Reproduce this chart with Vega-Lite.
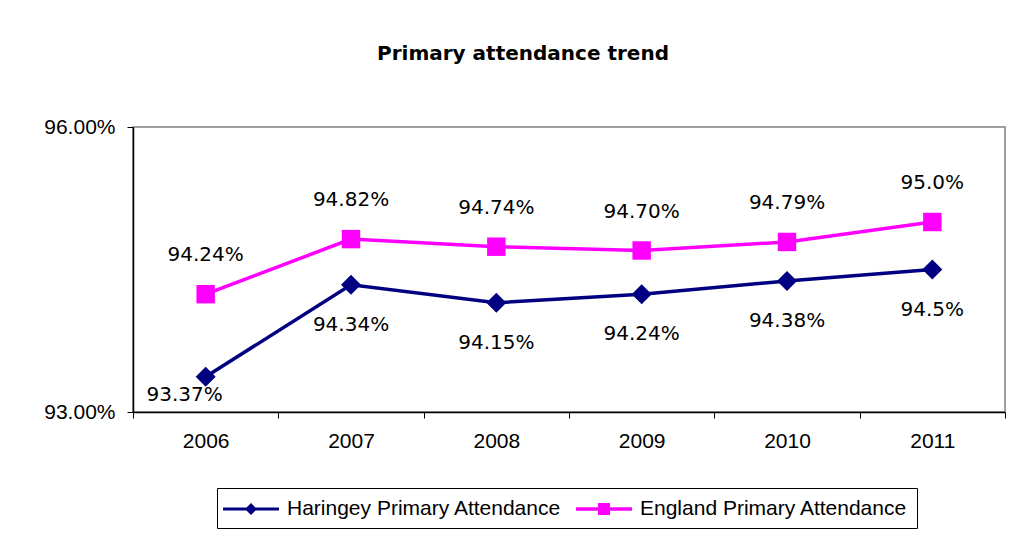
{
  "$schema": "https://vega.github.io/schema/vega-lite/v6.json",
  "autosize": {"type": "none"},
  "width": 872,
  "height": 285,
  "padding": {"left": 133, "top": 127, "right": 24, "bottom": 130},
  "background": "white",
  "title": {
    "text": "Primary attendance trend",
    "font": "DejaVu Sans",
    "fontSize": 20,
    "fontWeight": "bold",
    "color": "black",
    "anchor": "middle",
    "frame": "group",
    "dx": -46,
    "offset": 52
  },
  "config": {
    "view": {"stroke": "#808080", "strokeWidth": 1.5},
    "axis": {
      "labelFont": "Liberation Sans",
      "labelFontSize": 21,
      "labelColor": "black",
      "domainColor": "black",
      "domainWidth": 1.5,
      "tickColor": "black",
      "tickSize": 6,
      "grid": false,
      "title": null
    }
  },
  "data": {
    "values": [
      {"year": "2006", "series": "Haringey Primary Attendance", "value": 93.37, "label": "93.37%"},
      {"year": "2007", "series": "Haringey Primary Attendance", "value": 94.34, "label": "94.34%"},
      {"year": "2008", "series": "Haringey Primary Attendance", "value": 94.15, "label": "94.15%"},
      {"year": "2009", "series": "Haringey Primary Attendance", "value": 94.24, "label": "94.24%"},
      {"year": "2010", "series": "Haringey Primary Attendance", "value": 94.38, "label": "94.38%"},
      {"year": "2011", "series": "Haringey Primary Attendance", "value": 94.5, "label": "94.5%"},
      {"year": "2006", "series": "England Primary Attendance", "value": 94.24, "label": "94.24%"},
      {"year": "2007", "series": "England Primary Attendance", "value": 94.82, "label": "94.82%"},
      {"year": "2008", "series": "England Primary Attendance", "value": 94.74, "label": "94.74%"},
      {"year": "2009", "series": "England Primary Attendance", "value": 94.7, "label": "94.70%"},
      {"year": "2010", "series": "England Primary Attendance", "value": 94.79, "label": "94.79%"},
      {"year": "2011", "series": "England Primary Attendance", "value": 95.0, "label": "95.0%"}
    ]
  },
  "encoding": {
    "x": {
      "field": "year",
      "type": "ordinal",
      "scale": {"type": "band", "paddingInner": 0, "paddingOuter": 0},
      "axis": {"labelAngle": 0, "tickBand": "extent", "labelPadding": 12}
    },
    "y": {
      "field": "value",
      "type": "quantitative",
      "scale": {"domain": [93, 96], "zero": false, "nice": false},
      "axis": {"values": [93, 96], "labelExpr": "format(datum.value / 100, '.2%')", "labelPadding": 12}
    }
  },
  "layer": [
    {
      "mark": {"type": "line", "strokeWidth": 3.5},
      "encoding": {
        "color": {
          "field": "series",
          "type": "nominal",
          "scale": {
            "domain": ["Haringey Primary Attendance", "England Primary Attendance"],
            "range": ["#000080", "#FF00FF"]
          },
          "legend": {
            "orient": "none",
            "legendX": 84,
            "legendY": 361,
            "direction": "horizontal",
            "title": null,
            "strokeColor": "black",
            "fillColor": "white",
            "padding": 9,
            "symbolSize": 576,
            "symbolOffset": 13,
            "symbolStrokeWidth": 0,
            "labelOffset": 24,
            "columnPadding": 14,
            "labelFont": "Liberation Sans",
            "labelFontSize": 21,
            "labelColor": "black",
            "labelLimit": 400,
            "encode": {
              "symbols": {
                "update": {
                  "shape": {"signal": "datum.label === 'Haringey Primary Attendance' ? 'M-2.33,-0.13H2.33V0.13H-2.33Z M-0.5,0L0,-0.5L0.5,0L0,0.5Z' : 'M-2.33,-0.15H2.33V0.15H-2.33Z M-0.5,-0.5H0.5V0.5H-0.5Z'"},
                  "fill": {"signal": "scale('color', datum.value)"},
                  "strokeWidth": {"value": 0}
                }
              }
            }
          }
        }
      }
    },
    {
      "transform": [{"filter": "datum.series === 'Haringey Primary Attendance'"}],
      "mark": {"type": "point", "filled": true, "opacity": 1, "shape": "diamond", "size": 400, "color": "#000080"}
    },
    {
      "transform": [{"filter": "datum.series === 'England Primary Attendance'"}],
      "mark": {"type": "point", "filled": true, "opacity": 1, "shape": "square", "size": 340, "color": "#FF00FF"}
    },
    {
      "transform": [{"filter": "datum.series === 'England Primary Attendance'"}],
      "mark": {"type": "text", "font": "DejaVu Sans", "fontSize": 20, "color": "black", "baseline": "middle", "dy": -39},
      "encoding": {"text": {"field": "label"}}
    },
    {
      "transform": [{"filter": "datum.series === 'Haringey Primary Attendance' && datum.year !== '2006'"}],
      "mark": {"type": "text", "font": "DejaVu Sans", "fontSize": 20, "color": "black", "baseline": "middle", "dy": 40},
      "encoding": {"text": {"field": "label"}}
    },
    {
      "transform": [{"filter": "datum.series === 'Haringey Primary Attendance' && datum.year === '2006'"}],
      "mark": {"type": "text", "font": "DejaVu Sans", "fontSize": 20, "color": "black", "baseline": "middle", "dx": -21, "dy": 18},
      "encoding": {"text": {"field": "label"}}
    }
  ]
}
